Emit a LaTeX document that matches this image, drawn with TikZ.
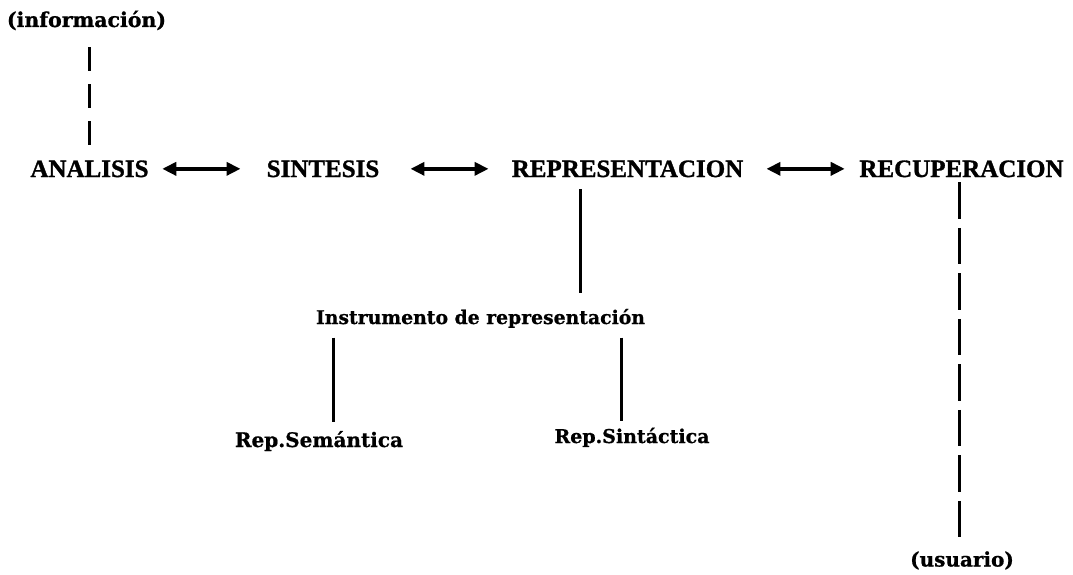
\documentclass[tikz,border=0pt]{standalone}
\usepackage{fontspec}
\setmainfont{Liberation Serif}[BoldFeatures={FakeBold=1.2}]
\newfontfamily\lowfont{DejaVu Serif}[BoldFeatures={FakeBold=0.8}]
\usetikzlibrary{arrows.meta}
\tikzset{
  caps/.style={inner sep=0pt, anchor=base, font=\fontsize{25}{30}\selectfont\bfseries},
  lower/.style={inner sep=0pt, anchor=base, font=\lowfont\fontsize{#1}{#1}\selectfont\bfseries},
  dbl/.style={line width=3.6pt, {Triangle[length=14pt,width=13pt]}-{Triangle[length=14pt,width=13pt]}},
  conn/.style={line width=3pt},
  dashconn/.style={line width=3pt, dash pattern=#1},
}
\begin{document}
\begin{tikzpicture}[x=1pt,y=-1pt]
\useasboundingbox (0,0) rectangle (1073,575);
% nodes
\node[lower=20.5] (info) at (86.5,27) {(información)};
\node[caps] (ana) at (89.5,177) {ANALISIS};
\node[caps] (sin) at (323,177) {SINTESIS};
\node[caps] (rep) at (627.5,177) {REPRESENTACION};
\node[caps] (rec) at (961.5,177) {RECUPERACION};
\node[lower=18.8] (ins) at (480.5,324) {Instrumento de representación};
\node[lower=20] (sem) at (319,447) {Rep.Semántica};
\node[lower=19] (snt) at (632,443) {Rep.Sintáctica};
\node[lower=20] (usu) at (962,566.5) {(usuario)};
% arrows
\draw[dbl, shorten <=13.5pt, shorten >=26pt] (ana.east) -- (sin.west);
\draw[dbl, shorten <=31pt, shorten >=23pt] (sin.east) -- (rep.west);
\draw[dbl, shorten <=23pt, shorten >=14.5pt] (rep.east) -- (rec.west);
% dashed connectors
\draw[dashconn={on 24pt off 13pt}, shorten <=17pt, shorten >=15.5pt] (info.south -| ana.north) -- (ana.north);
\draw[dashconn={on 36.5pt off 9pt}, shorten <=5pt, shorten >=14.5pt] ([xshift=-2.5pt]rec.south) -- ([xshift=-2.5pt]rec.south |- usu.north);
% solid connectors
\draw[conn, shorten <=12pt, shorten >=15.6pt] ([xshift=-47.5pt]rep.south) -- ([xshift=-47.5pt]rep.south |- ins.north);
\draw[conn, shorten <=9.5pt, shorten >=9pt] ([xshift=14pt]sem.north |- ins.south) -- ([xshift=14pt]sem.north);
\draw[conn, shorten <=9.5pt, shorten >=6.6pt] ([xshift=-11pt]snt.north |- ins.south) -- ([xshift=-11pt]snt.north);
\end{tikzpicture}
\end{document}
